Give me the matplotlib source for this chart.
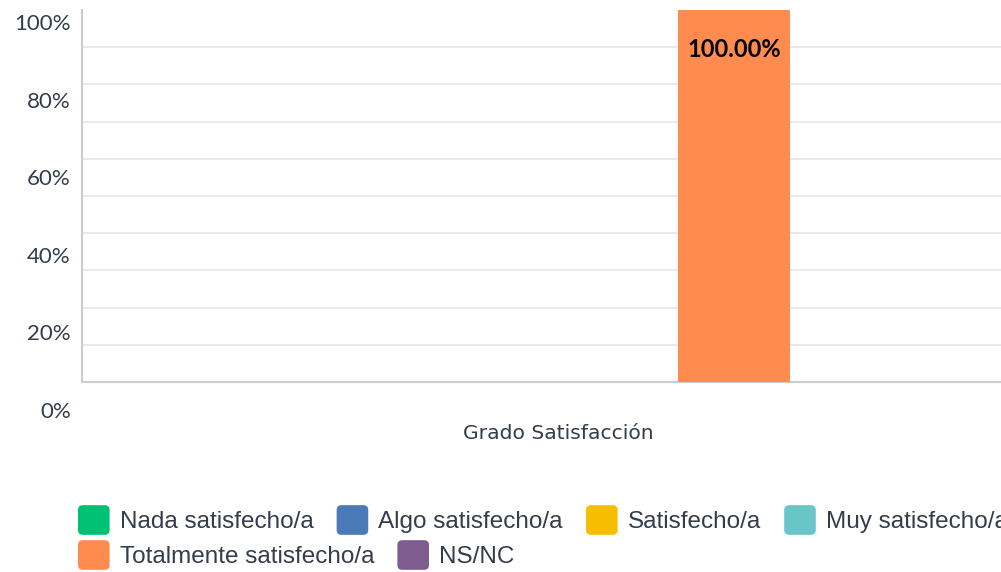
import matplotlib
matplotlib.use("Agg")
import matplotlib.pyplot as plt
from matplotlib.patches import FancyBboxPatch
from matplotlib.legend_handler import HandlerPatch
import numpy as np

group = "Grado Satisfacción"
series = ["Nada satisfecho/a", "Algo satisfecho/a", "Satisfecho/a",
          "Muy satisfecho/a", "Totalmente satisfecho/a", "NS/NC"]
values = [0, 0, 0, 0, 100, 0]
colors = ["#00c172", "#4a7ab8", "#f6be00", "#68c6c8", "#ff8b4f", "#7e5c8f"]
ytick_vals = [0, 20, 40, 60, 80, 100]

W, H = 1001, 572
TXT = "#333d4b"


class RoundBox(HandlerPatch):
    def create_artists(self, legend, orig, xdescent, ydescent, width, height,
                       fontsize, trans):
        p = FancyBboxPatch((-xdescent, -ydescent), width, height,
                           boxstyle="round,pad=0,rounding_size=3.5",
                           facecolor=orig.get_facecolor(), edgecolor="none",
                           transform=trans)
        return [p]


fig = plt.figure(figsize=(W / 100, H / 100), dpi=100)

# main plot area (runs past the right edge, like the reference)
ax = fig.add_axes([82 / W, 190 / H, 952 / W, 372 / H])
slot = 117.5 / 952
bw = 112 / 952
xs = [(i - 2.5) * slot for i in range(len(series))]
bars = []
for x, v, c, name in zip(xs, values, colors, series):
    bars.append(ax.bar(x, v, width=bw, color=c, label=name, zorder=3))

ax.set_xlim(-0.5, 0.5)
ax.set_ylim(0, 100)
ax.set_yticks(np.arange(10, 100, 10))
ax.yaxis.grid(True, color="#e8e8e8", linewidth=1.3, zorder=0)
ax.tick_params(axis="y", length=0, labelleft=False)
ax.set_xticks([0])
ax.set_xticklabels([group], fontsize=14.6, color=TXT, family="DejaVu Sans")
ax.tick_params(axis="x", length=0, pad=30)
for s in ["top", "right"]:
    ax.spines[s].set_visible(False)
for s in ["left", "bottom"]:
    ax.spines[s].set_color("#cccccc")
    ax.spines[s].set_linewidth(1.5)

for b, v in zip(bars, values):
    if v > 0:
        ax.bar_label(b, labels=[f"{v:.2f}%"], label_type="edge", padding=-37,
                     fontsize=17, fontweight="bold", family="Lato", color="black")

# y tick labels (slightly offset scale in the reference)
lab = fig.add_axes([82 / W, (H - 410) / H, 0.001, 388 / H])
lab.set_ylim(0, 100)
lab.set_yticks(ytick_vals)
lab.set_yticklabels([f"{v}%" for v in ytick_vals], fontsize=16, family="Lato",
                    color=TXT)
lab.tick_params(axis="y", length=0, pad=8)
lab.set_xticks([])
for s in lab.spines.values():
    s.set_visible(False)
lab.patch.set_alpha(0)

# legend as two flowing rows
handles = [b.patches[0] for b in bars]
kw = dict(frameon=False, handlelength=1.3, handleheight=1.5,
          handletextpad=0.42, columnspacing=0.95, borderpad=0, borderaxespad=0,
          labelcolor=TXT, prop={"family": "Liberation Sans", "size": 17.5},
          handler_map={matplotlib.patches.Rectangle: RoundBox()})
fig.legend(handles[:4], series[:4], ncol=4, loc="center left",
           bbox_to_anchor=(78 / W, (H - 520) / H), **kw)
fig.legend(handles[4:], series[4:], ncol=2, loc="center left",
           bbox_to_anchor=(78 / W, (H - 555) / H), **kw)

fig.savefig("out.png", dpi=100)
